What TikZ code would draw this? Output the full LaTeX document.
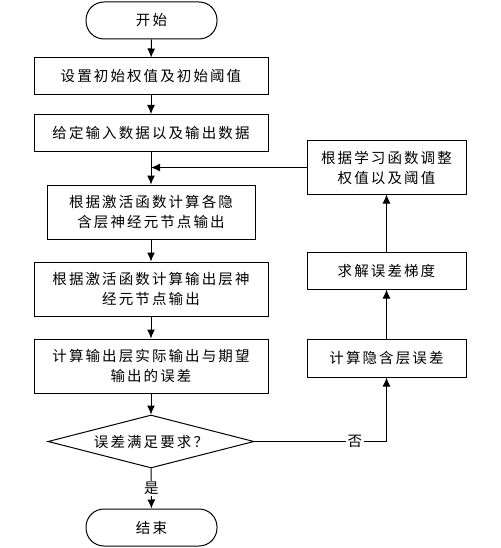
\documentclass[tikz,border=0pt]{standalone}
\usepackage{fontspec}
\setmainfont{Noto Sans CJK SC}[LetterSpace=14.5]
\usetikzlibrary{shapes.geometric, arrows.meta}

\begin{document}
\begin{tikzpicture}[x=1pt, y=-1pt,
        every node/.style={font=\fontsize{14.5}{20}\selectfont, align=center},
        terminal/.style={draw, line width=1pt, rounded corners=18pt, minimum width=131pt, minimum height=37pt},
        process/.style={draw, line width=1pt, minimum width=234pt, minimum height=37pt},
        decision/.style={draw, line width=1pt, diamond, aspect=3.9, minimum width=206pt, minimum height=53pt, inner sep=0pt},
        arrow/.style={line width=1pt, ->, >={Latex[length=9pt, width=8pt]}}]
        \useasboundingbox (0,0) rectangle (500,548);

        % main column
        \node[terminal] (start) at (151.5, 20.5) {开始};
        \node[process] (init) at (151, 76.5) {设置初始权值及初始阈值};
        \node[process] (data) at (151, 133) {给定输入数据以及输出数据};
        \node[process, minimum width=208pt, minimum height=54pt] (hidden) at (151, 212) {根据激活函数计算各隐\\含层神经元节点输出};
        \node[process, minimum height=54pt] (output) at (151, 289) {根据激活函数计算输出层神\\经元节点输出};
        \node[process, minimum height=54pt] (err) at (151, 366) {计算输出层实际输出与期望\\输出的误差};
        \node[decision] (check) at (151, 441.5) {误差满足要求？};
        \node[terminal] (stop) at (151.5, 527.5) {结束};

        % right column
        \node[process, minimum width=159pt, minimum height=53pt] (adjust) at (386.5, 167.5) {根据学习函数调整\\权值以及阈值};
        \node[process, minimum width=159pt] (grad) at (386.5, 270.5) {求解误差梯度};
        \node[process, minimum width=159pt, minimum height=38pt] (hiderr) at (386.5, 358) {计算隐含层误差};

        \coordinate (join) at (151, 167.5);

        \draw[arrow] (start) -- (init);
        \draw[arrow] (init) -- (data);
        \draw[arrow] (data) -- (hidden);
        \draw[arrow] (hidden) -- (output);
        \draw[arrow] (output) -- (err);
        \draw[arrow] (err) -- (check);
        \draw[arrow] (check) -- node[fill=white, inner sep=1pt] {是} (stop);
        \draw[arrow] (check.east) -| node[pos=0.38, fill=white, inner sep=2pt] {否} (hiderr.south);
        \draw[arrow] (hiderr) -- (grad);
        \draw[arrow] (grad) -- (adjust);
        \draw[arrow] (adjust.west) -- (join);
    \end{tikzpicture}
\end{document}
